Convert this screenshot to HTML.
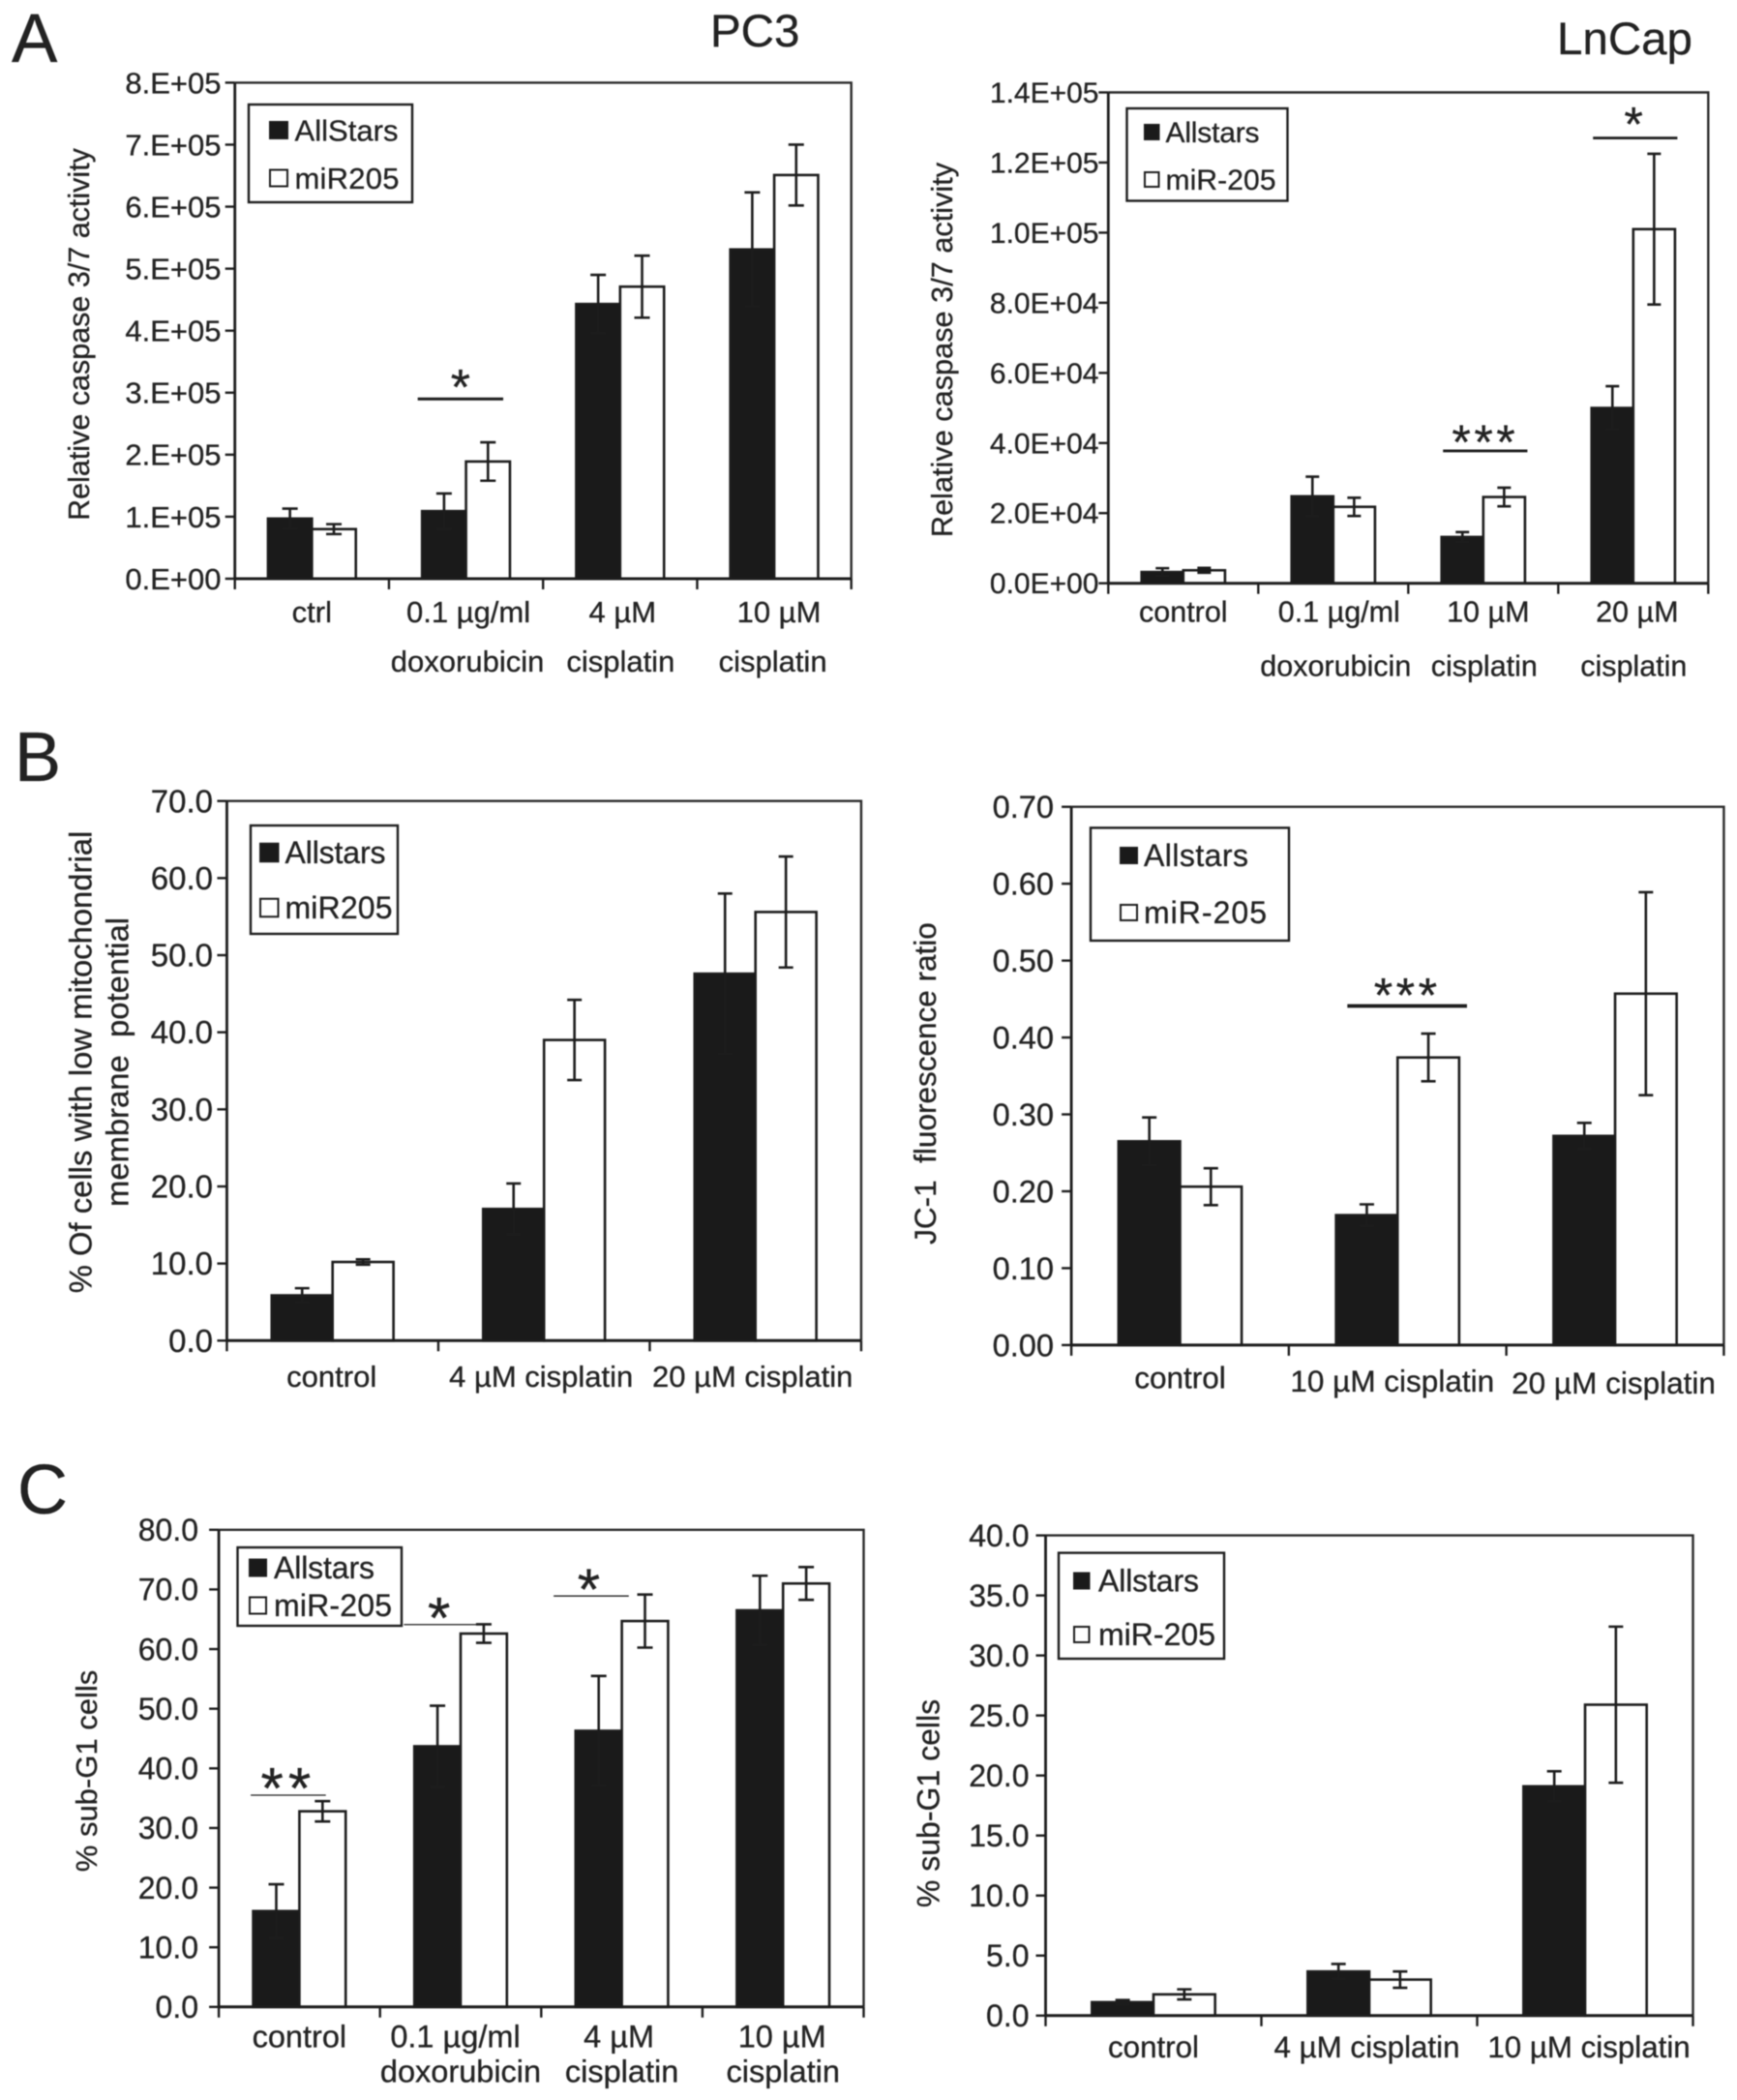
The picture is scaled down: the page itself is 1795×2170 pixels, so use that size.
<!DOCTYPE html>
<html lang="en">
<head>
<meta charset="utf-8">
<title>Caspase, mitochondrial potential and sub-G1 charts</title>
<style>
  html, body { margin: 0; padding: 0; background: #fff; }
  body { width: 1795px; height: 2170px; overflow: hidden; }
  svg { display: block; filter: blur(0.55px); font-family: "Liberation Sans", sans-serif; }
  text { fill: #222; stroke: #222; stroke-width: 0.3px; }
</style>
</head>
<body>
<svg id="figure" xmlns="http://www.w3.org/2000/svg" width="1795" height="2170" viewBox="0 0 1795 2170">
  <rect x="0" y="0" width="1795" height="2170" fill="#fff"/>
  <text x="12" y="64" font-size="71">A</text>
  <text x="15" y="807" font-size="72">B</text>
  <text x="18" y="1564" font-size="72">C</text>
  <text x="734" y="48" font-size="47.5">PC3</text>
  <text x="1609" y="56" font-size="47.5">LnCap</text>
</svg>
<script>
// ---- Chart A, PC3 (values in units of 1E+05) ----
const aLeftCategories = [["ctrl"], ["0.1 µg/ml", "doxorubicin"], ["4 µM", "cisplatin"], ["10 µM", "cisplatin"]];
const aLeftAllstars = [0.97, 1.09, 4.43, 5.31];
const aLeftAllstarsErr = [0.16, 0.285, 0.47, 0.92];
const aLeftMir = [0.80, 1.89, 4.71, 6.51];
const aLeftMirErr = [0.08, 0.31, 0.50, 0.49];
const aLeftTickValues = [0, 1, 2, 3, 4, 5, 6, 7, 8];
const aLeftTickLabels = ["0.E+00", "1.E+05", "2.E+05", "3.E+05", "4.E+05", "5.E+05", "6.E+05", "7.E+05", "8.E+05"];
const aLeftSigGroups = [1.464];
const aLeftSigLevels = [2.898];
const aLeftSigLabels = ["*"];

// ---- Chart A, LnCap (values in units of 1E+04) ----
const aRightCategories = [["control"], ["0.1 µg/ml", "doxorubicin"], ["10 µM", "cisplatin"], ["20 µM", "cisplatin"]];
const aRightAllstars = [0.32, 2.48, 1.32, 5.0];
const aRightAllstarsErr = [0.11, 0.56, 0.14, 0.62];
const aRightMir = [0.37, 2.18, 2.46, 10.1];
const aRightMirErr = [0.07, 0.26, 0.265, 2.15];
const aRightTickValues = [0, 2, 4, 6, 8, 10, 12, 14];
const aRightTickLabels = ["0.0E+00", "2.0E+04", "4.0E+04", "6.0E+04", "8.0E+04", "1.0E+05", "1.2E+05", "1.4E+05"];
const aRightSigGroups = [2.513, 3.513];
const aRightSigLevels = [3.775, 12.7];
const aRightSigLabels = ["***", "*"];

// ---- Chart B, PC3 ----
const bLeftCategories = [["control"], ["4 µM cisplatin"], ["20 µM cisplatin"]];
const bLeftAllstars = [5.87, 17.08, 47.6];
const bLeftAllstarsErr = [0.93, 3.3, 10.4];
const bLeftMir = [10.2, 39.0, 55.6];
const bLeftMirErr = [0.35, 5.2, 7.2];
const bLeftTickValues = [0, 10, 20, 30, 40, 50, 60, 70];
const bLeftTickLabels = ["0.0", "10.0", "20.0", "30.0", "40.0", "50.0", "60.0", "70.0"];
const bLeftSigGroups = [];
const bLeftSigLevels = [];
const bLeftSigLabels = [];

// ---- Chart B, LnCap ----
const bRightCategories = [["control"], ["10 µM cisplatin"], ["20 µM cisplatin"]];
const bRightAllstars = [0.265, 0.169, 0.272];
const bRightAllstarsErr = [0.031, 0.014, 0.017];
const bRightMir = [0.206, 0.374, 0.457];
const bRightMirErr = [0.024, 0.031, 0.132];
const bRightTickValues = [0, 0.1, 0.2, 0.3, 0.4, 0.5, 0.6, 0.7];
const bRightTickLabels = ["0.00", "0.10", "0.20", "0.30", "0.40", "0.50", "0.60", "0.70"];
const bRightSigGroups = [1.544];
const bRightSigLevels = [0.441];
const bRightSigLabels = ["***"];

// ---- Chart C, PC3 ----
const cLeftCategories = [["control"], ["0.1 µg/ml", "doxorubicin"], ["4 µM", "cisplatin"], ["10 µM", "cisplatin"]];
const cLeftAllstars = [16.07, 43.7, 46.3, 66.5];
const cLeftAllstarsErr = [4.5, 6.8, 9.2, 5.8];
const cLeftMir = [32.8, 62.6, 64.7, 71.0];
const cLeftMirErr = [1.7, 1.55, 4.45, 2.75];
const cLeftTickValues = [0, 10, 20, 30, 40, 50, 60, 70, 80];
const cLeftTickLabels = ["0.0", "10.0", "20.0", "30.0", "40.0", "50.0", "60.0", "70.0", "80.0"];
const cLeftSigGroups = [0.431, 1.381, 2.31];
const cLeftSigLevels = [35.5, 64.1, 68.9];
const cLeftSigLabels = ["**", "*", "*"];

// ---- Chart C, LnCap ----
const cRightCategories = [["control"], ["4 µM cisplatin"], ["10 µM cisplatin"]];
const cRightAllstars = [1.12, 3.68, 19.1];
const cRightAllstarsErr = [0.18, 0.62, 1.25];
const cRightMir = [1.77, 3.0, 25.9];
const cRightMirErr = [0.42, 0.68, 6.5];
const cRightTickValues = [0, 5, 10, 15, 20, 25, 30, 35, 40];
const cRightTickLabels = ["0.0", "5.0", "10.0", "15.0", "20.0", "25.0", "30.0", "35.0", "40.0"];
const cRightSigGroups = [];
const cRightSigLevels = [];
const cRightSigLabels = [];

const svg = document.getElementById('figure');
const NS = 'http://www.w3.org/2000/svg';
const INK = '#1c1c1c';

function mk(tag, props, parent) {
  const node = document.createElementNS(NS, tag);
  for (const k in props) node.setAttribute(k, props[k]);
  parent.appendChild(node);
  return node;
}

function drawChart(c) {
  const L = c.layout;
  const g = mk('g', {}, svg);
  
  

  const n = c.categories.length;
  const band = (L.right - L.left) / n;
  const yMax = c.tickValues[c.tickValues.length - 1];
  const yScale = v => L.bottom - (v / yMax) * (L.bottom - L.top);
  const bandCenter = i => L.left + band * (i + 0.5);
  const bandEdge = u => L.left + band * u;
  const barW = band * L.barFrac;

  // bars
  function drawSeries(values, errors, fill, key, dir) {
    values.forEach((v, i) => {
      const x = dir < 0 ? bandCenter(i) - barW : bandCenter(i);
      const y = yScale(v);
      const bar = mk('rect', { x: x, y: y, width: barW, height: L.bottom - y, fill: fill, stroke: INK, 'stroke-width': 2.6 }, g);
      
      
    });
    values.forEach((v, i) => {
      const x = (dir < 0 ? bandCenter(i) - barW : bandCenter(i)) + barW / 2;
      const hi = yScale(v + errors[i]);
      const lo = yScale(v - errors[i]);
      const err = mk('path', {
        d: 'M' + x + ' ' + hi + 'V' + lo +
           'M' + (x - L.capW / 2) + ' ' + hi + 'H' + (x + L.capW / 2) +
           'M' + (x - L.capW / 2) + ' ' + lo + 'H' + (x + L.capW / 2),
        fill: 'none', stroke: INK, 'stroke-width': 2.6
      }, g);
      
      
    });
  }
  drawSeries(c.allstars, c.allstarsErr, '#1a1a1a', 'allstars', -1);
  drawSeries(c.mir, c.mirErr, '#ffffff', 'mir205', 1);

  // plot frame
  const frame = mk('path', {
    d: 'M' + L.left + ' ' + L.top + 'H' + L.right + 'V' + L.bottom,
    fill: 'none', stroke: '#2a2a2a', 'stroke-width': 2.4
  }, g);
  
  

  const yAxis = mk('path', { d: 'M' + L.left + ' ' + L.top + 'V' + L.bottom, fill: 'none', stroke: INK, 'stroke-width': 2.8 }, g);
  
  

  const xAxis = mk('path', { d: 'M' + L.left + ' ' + L.bottom + 'H' + L.right, fill: 'none', stroke: INK, 'stroke-width': 3 }, g);
  
  

  // y ticks & labels
  c.tickValues.forEach((v, i) => {
    const y = yScale(v);
    const tick = mk('line', { x1: L.left - 10, x2: L.left, y1: y, y2: y, stroke: INK, 'stroke-width': 2.4 }, g);
    
    
    const label = mk('text', { x: L.tickLabelX, y: y + L.tickFont * 0.35, 'font-size': L.tickFont, 'text-anchor': 'end' }, g);
    label.textContent = c.tickLabels[i];
    
    
  });

  // x ticks & labels
  for (let i = 0; i <= n; i++) {
    const x = L.left + band * i;
    const tick = mk('line', { x1: x, x2: x, y1: L.bottom, y2: L.bottom + 11, stroke: INK, 'stroke-width': 2.4 }, g);
    
    
  }
  c.categories.forEach((lines, i) => {
    lines.forEach((line, j) => {
      const dy = L.xLabelDy ? L.xLabelDy[i] : 0;
      const dx = L.xLabelDx ? L.xLabelDx[i][j] : 0;
      const label = mk('text', {
        x: bandCenter(i) + dx, y: L.xLineY[j] + dy + L.xFont * 0.35,
        'font-size': L.xFont, 'text-anchor': 'middle'
      }, g);
      label.textContent = line;
      
      
    });
  });

  // y title
  c.yTitle.forEach((line, j) => {
    const t = mk('text', {
      transform: 'translate(' + L.titleX[j] + ' ' + L.titleY + ') rotate(-90)',
      x: 0, y: L.titleFont * 0.35, 'font-size': L.titleFont, 'text-anchor': 'middle'
    }, g);
    t.textContent = line;
    
    
  });

  // significance markers
  c.sigGroups.forEach((u, i) => {
    const cx = bandEdge(u);
    const y = yScale(c.sigLevels[i]);
    const hw = band * L.sigWidth / 2;
    const rule = mk('line', { x1: cx - hw, x2: cx + hw, y1: y, y2: y, stroke: INK, 'stroke-width': L.sigStroke }, g);
    
    
    const gap = Array.isArray(L.starGap) ? L.starGap[i] : L.starGap;
    const star = mk('text', {
      x: cx, y: y - gap + L.starFont * 0.46,
      'font-size': L.starFont, 'text-anchor': 'middle', 'letter-spacing': L.starSpacing
    }, g);
    star.textContent = c.sigLabels[i];
    
    
  });

  // legend
  const lg = L.legend;
  const box = mk('rect', { x: lg.x0, y: lg.y0, width: lg.x1 - lg.x0, height: lg.y1 - lg.y0, fill: '#fff', stroke: INK, 'stroke-width': 2.4 }, g);
  
  
  c.legendLabels.forEach((text, i) => {
    const sw = mk('rect', {
      x: lg.swX, y: lg.rowY[i] - lg.swH / 2, width: lg.swW, height: lg.swH,
      fill: i === 0 ? '#1a1a1a' : '#fff', stroke: INK, 'stroke-width': 2
    }, g);
    
    
    const t = mk('text', {
      x: lg.textX, y: lg.rowY[i] + lg.font * 0.35, 'font-size': lg.font,
      textLength: lg.widths[i], lengthAdjust: 'spacing'
    }, g);
    t.textContent = text;
    
    
  });
}

drawChart({
  name: 'chart-a-pc3', categories: aLeftCategories,
  allstars: aLeftAllstars, allstarsErr: aLeftAllstarsErr, mir: aLeftMir, mirErr: aLeftMirErr,
  tickValues: aLeftTickValues, tickLabels: aLeftTickLabels,
  sigGroups: aLeftSigGroups, sigLevels: aLeftSigLevels, sigLabels: aLeftSigLabels,
  yTitle: ['Relative caspase 3/7 activity'], legendLabels: ['AllStars', 'miR205'],
  layout: {
    left: 242.7, right: 879.7, top: 85.4, bottom: 598, barFrac: 0.285, capW: 16,
    tickLabelX: 228.5, tickFont: 31, xFont: 31, xLineY: [632, 683],
    xLabelDx: [[0], [2.5, 1.5], [2.5, 0.5], [5, -1.5]],
    titleX: [81.5], titleY: 345.5, titleFont: 30.5,
    sigWidth: 0.555, sigStroke: 3, starFont: 52, starGap: 18, starSpacing: 0,
    legend: { x0: 257, y0: 108, x1: 426, y1: 209, swX: 279, swW: 18, swH: 17, rowY: [134.5, 184], textX: 304.5, font: 31, widths: [107, 108] }
  }
});

drawChart({
  name: 'chart-a-lncap', categories: aRightCategories,
  allstars: aRightAllstars, allstarsErr: aRightAllstarsErr, mir: aRightMir, mirErr: aRightMirErr,
  tickValues: aRightTickValues, tickLabels: aRightTickLabels,
  sigGroups: aRightSigGroups, sigLevels: aRightSigLevels, sigLabels: aRightSigLabels,
  yTitle: ['Relative caspase 3/7 activity'], legendLabels: ['Allstars', 'miR-205'],
  layout: {
    left: 1145.3, right: 1765.3, top: 95.5, bottom: 602.7, barFrac: 0.278, capW: 14,
    tickLabelX: 1135.5, tickFont: 30, xFont: 30.5, xLineY: [632, 688],
    xLabelDx: [[0], [6, 2.5], [5, 1], [4, 0.5]],
    titleX: [973], titleY: 361.5, titleFont: 30.7,
    sigWidth: 0.5625, sigStroke: 2.8, starFont: 50, starGap: [15, 20], starSpacing: 3.5,
    legend: { x0: 1164.5, y0: 112, x1: 1330.5, y1: 207.5, swX: 1183, swW: 14.5, swH: 15, rowY: [136.5, 185.5], textX: 1204.5, font: 30, widths: [97, 114] }
  }
});

drawChart({
  name: 'chart-b-pc3', categories: bLeftCategories,
  allstars: bLeftAllstars, allstarsErr: bLeftAllstarsErr, mir: bLeftMir, mirErr: bLeftMirErr,
  tickValues: bLeftTickValues, tickLabels: bLeftTickLabels,
  sigGroups: bLeftSigGroups, sigLevels: bLeftSigLevels, sigLabels: bLeftSigLabels,
  yTitle: ['% Of cells with low mitochondrial', 'membrane\u00a0 potential'], legendLabels: ['Allstars', 'miR205'],
  layout: {
    left: 234.45, right: 889.95, top: 827.7, bottom: 1385.3, barFrac: 0.288, capW: 15,
    tickLabelX: 220, tickFont: 33, xFont: 31, xLineY: [1422],
    xLabelDx: [[-1], [-3], [-3]],
    titleX: [83, 121], titleY: 1097.5, titleFont: 32.8,
    sigWidth: 0.5, sigStroke: 2.6, starFont: 50, starGap: 17, starSpacing: 2,
    legend: { x0: 259, y0: 853, x1: 411, y1: 965, swX: 269, swW: 18.5, swH: 18.5, rowY: [881, 938], textX: 294.5, font: 32, widths: [104, 111] }
  }
});

drawChart({
  name: 'chart-b-lncap', categories: bRightCategories,
  allstars: bRightAllstars, allstarsErr: bRightAllstarsErr, mir: bRightMir, mirErr: bRightMirErr,
  tickValues: bRightTickValues, tickLabels: bRightTickLabels,
  sigGroups: bRightSigGroups, sigLevels: bRightSigLevels, sigLabels: bRightSigLabels,
  yTitle: ['JC-1\u00a0 fluorescence ratio'], legendLabels: ['Allstars', 'miR-205'],
  layout: {
    left: 1107.1, right: 1781.4, top: 833.7, bottom: 1389.9, barFrac: 0.283, capW: 15,
    tickLabelX: 1089, tickFont: 32.6, xFont: 31.5, xLineY: [1423.6], xLabelDy: [0, 3.5, 5.5],
    xLabelDx: [[0], [-5.5], [-1.5]],
    titleX: [956], titleY: 1119.5, titleFont: 31.5,
    sigWidth: 0.55, sigStroke: 3.8, starFont: 50, starGap: 17, starSpacing: 3.5,
    legend: { x0: 1127, y0: 855.4, x1: 1332, y1: 972, swX: 1158, swW: 17, swH: 16, rowY: [884, 943], textX: 1182, font: 32, widths: [108, 127] }
  }
});

drawChart({
  name: 'chart-c-pc3', categories: cLeftCategories,
  allstars: cLeftAllstars, allstarsErr: cLeftAllstarsErr, mir: cLeftMir, mirErr: cLeftMirErr,
  tickValues: cLeftTickValues, tickLabels: cLeftTickLabels,
  sigGroups: cLeftSigGroups, sigLevels: cLeftSigLevels, sigLabels: cLeftSigLabels,
  yTitle: ['% sub-G1 cells'], legendLabels: ['Allstars', 'miR-205'],
  layout: {
    left: 226.1, right: 892.5, top: 1580.8, bottom: 2073.8, barFrac: 0.287, capW: 16,
    tickLabelX: 205, tickFont: 32, xFont: 32.5, xLineY: [2104, 2140],
    xLabelDx: [[0], [-5.5, 0], [-3, 0], [-1, 0]],
    titleX: [89], titleY: 1830, titleFont: 31,
    sigWidth: 0.466, sigStroke: 1.3, starFont: 60, starGap: [14, 14, 14], starSpacing: 5,
    legend: { x0: 245.5, y0: 1599, x1: 415, y1: 1680, swX: 258, swW: 17, swH: 17, rowY: [1620, 1659], textX: 283, font: 32, widths: [104, 122] }
  }
});

drawChart({
  name: 'chart-c-lncap', categories: cRightCategories,
  allstars: cRightAllstars, allstarsErr: cRightAllstarsErr, mir: cRightMir, mirErr: cRightMirErr,
  tickValues: cRightTickValues, tickLabels: cRightTickLabels,
  sigGroups: cRightSigGroups, sigLevels: cRightSigLevels, sigLabels: cRightSigLabels,
  yTitle: ['% sub-G1 cells'], legendLabels: ['Allstars', 'miR-205'],
  layout: {
    left: 1080.5, right: 1749.5, top: 1586.6, bottom: 2082.8, barFrac: 0.2855, capW: 15,
    tickLabelX: 1063.5, tickFont: 32, xFont: 31.3, xLineY: [2115],
    xLabelDx: [[0], [-2.5], [4]],
    titleX: [959.5], titleY: 1863.5, titleFont: 32,
    sigWidth: 0.5, sigStroke: 2, starFont: 50, starGap: 19, starSpacing: 2,
    legend: { x0: 1094, y0: 1604.6, x1: 1265, y1: 1714, swX: 1110, swW: 15.5, swH: 16, rowY: [1633.5, 1689], textX: 1135, font: 32, widths: [104, 121] }
  }
});
</script>
</body>
</html>
